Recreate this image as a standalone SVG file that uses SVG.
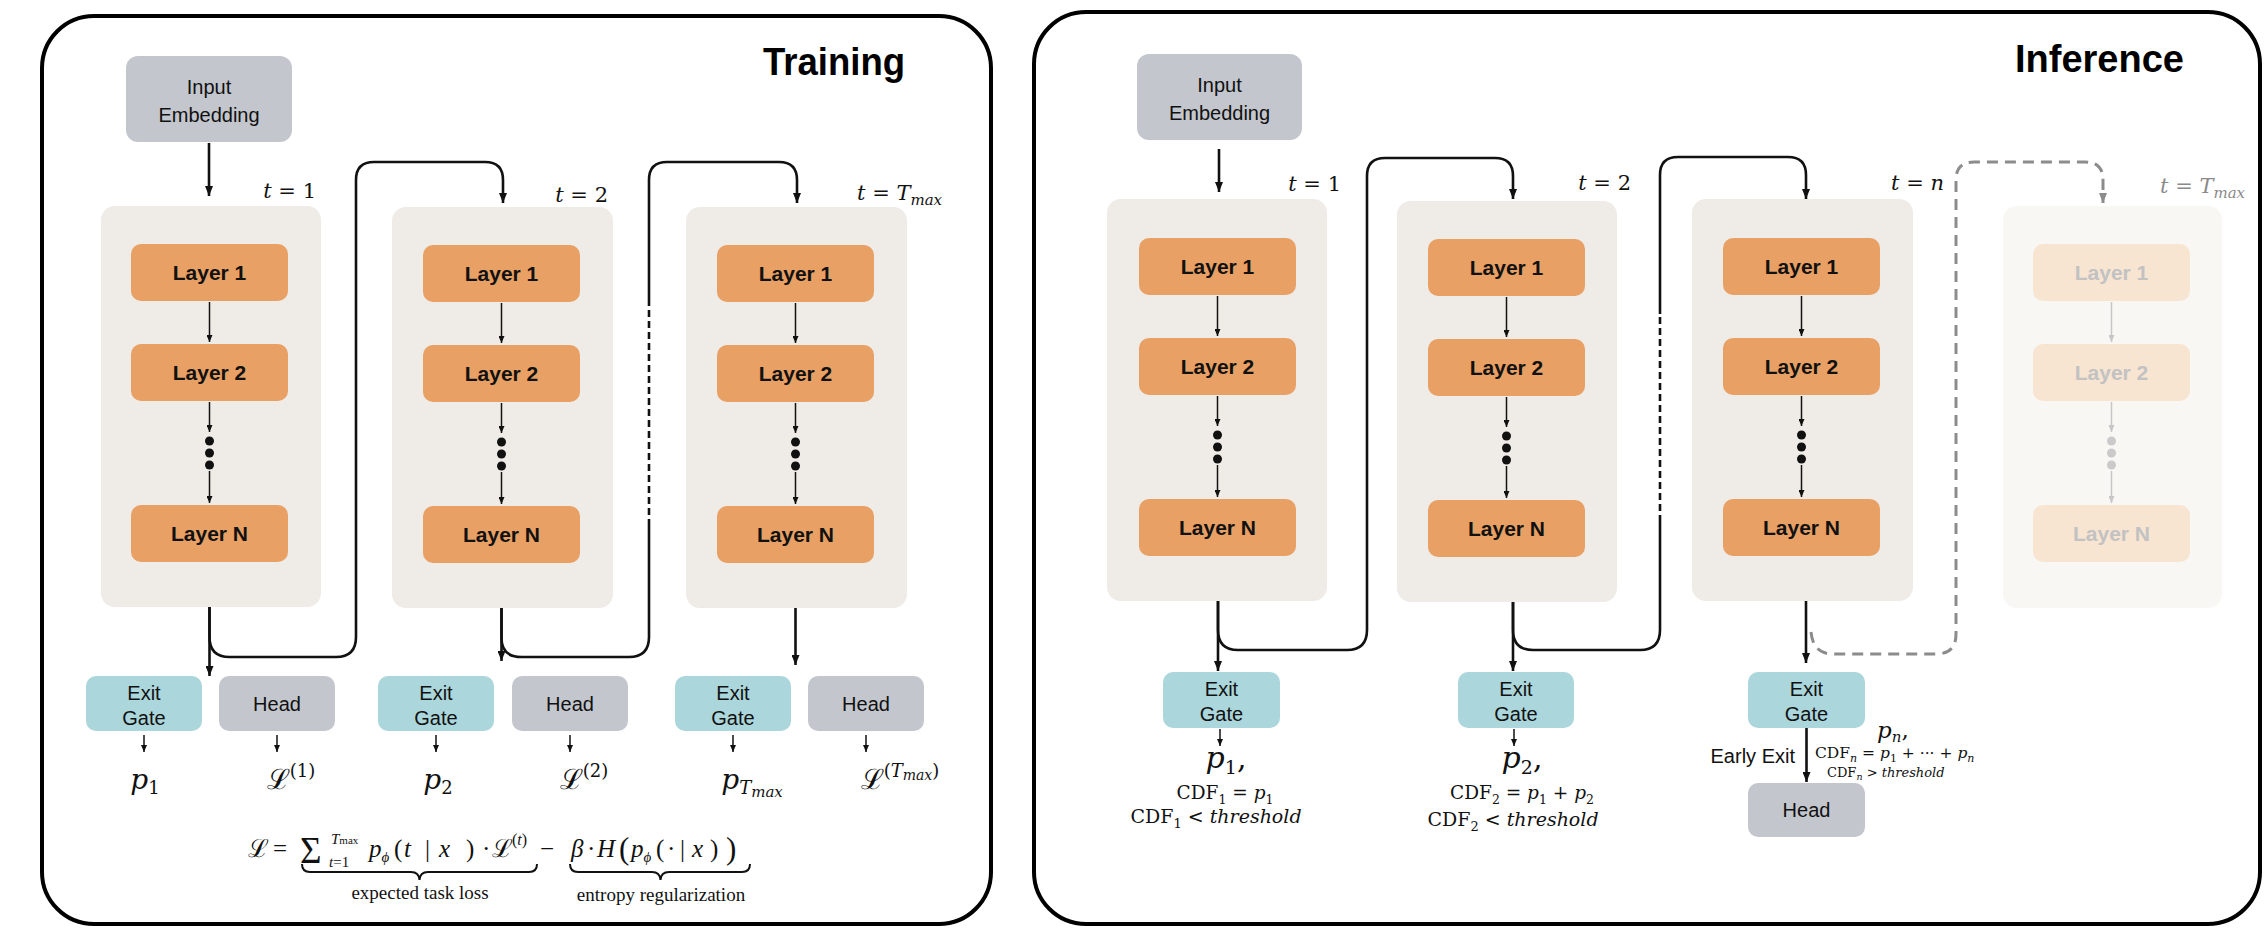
<svg xmlns="http://www.w3.org/2000/svg" width="2264" height="929" viewBox="0 0 2264 929">
<defs>
<style>
.panel{fill:#fff;stroke:#000;stroke-width:4}
.col{fill:#efebe6}
.colf{fill:#f8f7f3}
.layer{fill:#e8a064}
.layerf{fill:#f7e5d2}
.gate{fill:#abd6db}
.grey{fill:#c3c7cd}
.lbl{font-family:"Liberation Sans",Arial,sans-serif;font-size:21px;font-weight:bold;fill:#111;text-anchor:middle}
.lblf{font-family:"Liberation Sans",Arial,sans-serif;font-size:21px;font-weight:bold;fill:#c2c2c2;text-anchor:middle}
.box{font-family:"Liberation Sans",Arial,sans-serif;font-size:20px;fill:#111;text-anchor:middle}
.note{font-family:"Liberation Sans",Arial,sans-serif;font-size:20px;fill:#111;text-anchor:end}
.title{font-family:"Liberation Sans",Arial,sans-serif;font-size:39px;font-weight:bold;fill:#000}
.m{font-family:"DejaVu Serif",serif;fill:#111}
.mg{font-family:"DejaVu Serif",serif;fill:#8a8a8a}
.tex{font-family:"Liberation Serif","DejaVu Serif",serif;fill:#111;font-size:25px}
.i{font-style:italic}
.wire{fill:none;stroke:#111;stroke-width:2.6}
.dash{fill:none;stroke:#111;stroke-width:2.6;stroke-dasharray:7 4}
.thin{fill:none;stroke:#111;stroke-width:1.5}
.dashg{fill:none;stroke:#8c8c8c;stroke-width:3;stroke-dasharray:11 7}
.thinf{fill:none;stroke:#c6c6c6;stroke-width:1.5}
.dot{fill:#111}
.dotf{fill:#cacaca}
.brace{fill:none;stroke:#111;stroke-width:2}
</style>
<marker id="ah" viewBox="0 0 10 8" refX="10" refY="4" markerWidth="10" markerHeight="8" markerUnits="userSpaceOnUse" orient="auto"><path d="M0,0 L10,4 L0,8 z" fill="#111"/></marker>
<marker id="ahs" viewBox="0 0 7 6" refX="7" refY="3" markerWidth="7" markerHeight="6" markerUnits="userSpaceOnUse" orient="auto"><path d="M0,0 L7,3 L0,6 z" fill="#111"/></marker>
<marker id="ahg" viewBox="0 0 10 8" refX="10" refY="4" markerWidth="10" markerHeight="8" markerUnits="userSpaceOnUse" orient="auto"><path d="M0,0 L10,4 L0,8 z" fill="#8c8c8c"/></marker>
<marker id="ahf" viewBox="0 0 7 6" refX="7" refY="3" markerWidth="7" markerHeight="6" markerUnits="userSpaceOnUse" orient="auto"><path d="M0,0 L7,3 L0,6 z" fill="#c6c6c6"/></marker>
</defs>

<!-- ===================== TRAINING ===================== -->
<g id="training-panel">
  <rect class="panel" x="42" y="16" width="949" height="908" rx="52"/>
  <text class="title" x="763" y="75" textLength="142" lengthAdjust="spacingAndGlyphs">Training</text>
</g>

<g id="train-input">
  <rect class="grey" x="126" y="56" width="166" height="86" rx="12"/>
  <text class="box" font-size="22" x="209" y="94">Input</text>
  <text class="box" font-size="22" x="209" y="122">Embedding</text>
</g>

<!-- step t = 1 -->
<g id="train-step1">
  <rect class="col" x="101" y="206" width="220" height="401" rx="14"/>
  <rect class="layer" x="131" y="244" width="157" height="57" rx="10"/>
  <text class="lbl" x="209.5" y="280">Layer 1</text>
  <rect class="layer" x="131" y="344" width="157" height="57" rx="10"/>
  <text class="lbl" x="209.5" y="380">Layer 2</text>
  <rect class="layer" x="131" y="505" width="157" height="57" rx="10"/>
  <text class="lbl" x="209.5" y="541">Layer N</text>
  <path class="thin" d="M209.5 302 V342" marker-end="url(#ahs)"/>
  <path class="thin" d="M209.5 402 V432" marker-end="url(#ahs)"/>
  <circle class="dot" cx="209.5" cy="441" r="4.5"/>
  <circle class="dot" cx="209.5" cy="453" r="4.5"/>
  <circle class="dot" cx="209.5" cy="465" r="4.5"/>
  <path class="thin" d="M209.5 471 V503" marker-end="url(#ahs)"/>
  <text class="m" font-size="21" x="316" y="198" text-anchor="end"><tspan class="i">t</tspan> = 1</text>
</g>

<!-- step t = 2 -->
<g id="train-step2">
  <rect class="col" x="392" y="207" width="221" height="401" rx="14"/>
  <rect class="layer" x="423" y="245" width="157" height="57" rx="10"/>
  <text class="lbl" x="501.5" y="281">Layer 1</text>
  <rect class="layer" x="423" y="345" width="157" height="57" rx="10"/>
  <text class="lbl" x="501.5" y="381">Layer 2</text>
  <rect class="layer" x="423" y="506" width="157" height="57" rx="10"/>
  <text class="lbl" x="501.5" y="542">Layer N</text>
  <path class="thin" d="M501.5 303 V343" marker-end="url(#ahs)"/>
  <path class="thin" d="M501.5 403 V433" marker-end="url(#ahs)"/>
  <circle class="dot" cx="501.5" cy="442" r="4.5"/>
  <circle class="dot" cx="501.5" cy="454" r="4.5"/>
  <circle class="dot" cx="501.5" cy="466" r="4.5"/>
  <path class="thin" d="M501.5 472 V504" marker-end="url(#ahs)"/>
  <text class="m" font-size="21" x="608" y="202" text-anchor="end"><tspan class="i">t</tspan> = 2</text>
</g>

<!-- step t = T_max -->
<g id="train-stepmax">
  <rect class="col" x="686" y="207" width="221" height="401" rx="14"/>
  <rect class="layer" x="717" y="245" width="157" height="57" rx="10"/>
  <text class="lbl" x="795.5" y="281">Layer 1</text>
  <rect class="layer" x="717" y="345" width="157" height="57" rx="10"/>
  <text class="lbl" x="795.5" y="381">Layer 2</text>
  <rect class="layer" x="717" y="506" width="157" height="57" rx="10"/>
  <text class="lbl" x="795.5" y="542">Layer N</text>
  <path class="thin" d="M795.5 303 V343" marker-end="url(#ahs)"/>
  <path class="thin" d="M795.5 403 V433" marker-end="url(#ahs)"/>
  <circle class="dot" cx="795.5" cy="442" r="4.5"/>
  <circle class="dot" cx="795.5" cy="454" r="4.5"/>
  <circle class="dot" cx="795.5" cy="466" r="4.5"/>
  <path class="thin" d="M795.5 472 V504" marker-end="url(#ahs)"/>
  <text class="m" font-size="21" x="857" y="200"><tspan class="i">t</tspan> = <tspan class="i">T</tspan><tspan class="i" font-size="15" dy="5">max</tspan></text>
</g>

<!-- exit gates and heads -->
<g id="train-gate1"><rect class="gate" x="86" y="676" width="116" height="55" rx="10"/><text class="box" x="144" y="700">Exit</text><text class="box" x="144" y="725">Gate</text></g>
<g id="train-head1"><rect class="grey" x="219" y="676" width="116" height="55" rx="10"/><text class="box" x="277" y="711">Head</text></g>
<g id="train-gate2"><rect class="gate" x="378" y="676" width="116" height="55" rx="10"/><text class="box" x="436" y="700">Exit</text><text class="box" x="436" y="725">Gate</text></g>
<g id="train-head2"><rect class="grey" x="512" y="676" width="116" height="55" rx="10"/><text class="box" x="570" y="711">Head</text></g>
<g id="train-gate3"><rect class="gate" x="675" y="676" width="116" height="55" rx="10"/><text class="box" x="733" y="700">Exit</text><text class="box" x="733" y="725">Gate</text></g>
<g id="train-head3"><rect class="grey" x="808" y="676" width="116" height="55" rx="10"/><text class="box" x="866" y="711">Head</text></g>

<!-- outputs under the gates and heads -->
<g id="train-outputs">
  <text class="m" font-size="28" x="145" y="789" text-anchor="middle"><tspan class="i">p</tspan><tspan font-size="18" dy="5">1</tspan></text>
  <text class="m" font-size="28" x="291" y="789" text-anchor="middle">ℒ<tspan font-size="18" dy="-12">(1)</tspan></text>
  <text class="m" font-size="28" x="438" y="789" text-anchor="middle"><tspan class="i">p</tspan><tspan font-size="18" dy="5">2</tspan></text>
  <text class="m" font-size="28" x="584" y="789" text-anchor="middle">ℒ<tspan font-size="18" dy="-12">(2)</tspan></text>
  <text class="m" font-size="28" x="752" y="789" text-anchor="middle"><tspan class="i">p</tspan><tspan class="i" font-size="18" dy="5">T</tspan><tspan class="i" font-size="15" dy="3">max</tspan></text>
  <text class="m" font-size="28" x="900" y="789" text-anchor="middle">ℒ<tspan font-size="18" dy="-12">(</tspan><tspan class="i" font-size="18">T</tspan><tspan class="i" font-size="14" dy="3">max</tspan><tspan font-size="18" dy="-3">)</tspan></text>
</g>

<!-- objective -->
<g id="train-objective" class="tex">
  <text x="248" y="857">ℒ</text>
  <text x="273" y="857">=</text>
  <text x="300" y="863" font-size="37">Σ</text>
  <text x="331" y="844" font-size="15"><tspan class="i">T</tspan><tspan font-size="11">max</tspan></text>
  <text x="329" y="867" font-size="15"><tspan class="i">t</tspan>=1</text>
  <text x="369" y="857"><tspan class="i">p</tspan><tspan class="i" font-size="15" dy="5">ϕ</tspan></text>
  <text x="394" y="857">(</text>
  <text x="404" y="857" class="i">t</text>
  <text x="425" y="857">|</text>
  <text x="439" y="857" class="i">x</text>
  <text x="466" y="857">)</text>
  <text x="482" y="857">·</text>
  <text x="492" y="857">ℒ</text>
  <text x="512" y="845" font-size="16">(<tspan class="i">t</tspan>)</text>
  <text x="540" y="857">−</text>
  <text x="571" y="857" class="i">β</text>
  <text x="587" y="857">·</text>
  <text x="597" y="857" class="i">H</text>
  <text x="619" y="859" font-size="31">(</text>
  <text x="631" y="857"><tspan class="i">p</tspan><tspan class="i" font-size="15" dy="5">ϕ</tspan></text>
  <text x="656" y="857">(</text>
  <text x="667" y="857">·</text>
  <text x="680" y="857">|</text>
  <text x="692" y="857" class="i">x</text>
  <text x="710" y="857">)</text>
  <text x="726" y="859" font-size="31">)</text>
  <path class="brace" d="M302 864 Q302 872 310 872 L411 872 Q419 872 419.5 880 Q420 872 428 872 L529 872 Q537 872 537 864"/>
  <path class="brace" d="M570 864 Q570 872 578 872 L652 872 Q660 872 660.5 880 Q661 872 669 872 L742 872 Q750 872 750 864"/>
  <text x="420" y="899" font-size="19" text-anchor="middle">expected task loss</text>
  <text x="661" y="901" font-size="19" text-anchor="middle">entropy regularization</text>
</g>

<!-- training connectors -->
<g id="train-connectors">
  <path class="wire" d="M209 143 V196" marker-end="url(#ah)"/>
  <path class="wire" d="M209.5 607 V637 Q209.5 657 229.5 657 H336 Q356 657 356 637 V180 Q356 162 374 162 H485 Q503 162 503 180 V203" marker-end="url(#ah)"/>
  <path class="wire" d="M209.5 607 V676" marker-end="url(#ah)"/>
  <path class="wire" d="M501.5 608 V638 Q501.5 657 521.5 657 H629 Q649 657 649 637 V526"/>
  <path class="dash" d="M649 526 V302"/>
  <path class="wire" d="M649 302 V180 Q649 162 667 162 H779 Q797 162 797 180 V203" marker-end="url(#ah)"/>
  <path class="wire" d="M501.5 608 V661" marker-end="url(#ah)"/>
  <path class="wire" d="M795.5 608 V665" marker-end="url(#ah)"/>
  <path class="thin" d="M144 735 V752" marker-end="url(#ahs)"/>
  <path class="thin" d="M277 735 V752" marker-end="url(#ahs)"/>
  <path class="thin" d="M436 735 V752" marker-end="url(#ahs)"/>
  <path class="thin" d="M570 735 V752" marker-end="url(#ahs)"/>
  <path class="thin" d="M733 735 V752" marker-end="url(#ahs)"/>
  <path class="thin" d="M866 735 V752" marker-end="url(#ahs)"/>
</g>

<!-- ===================== INFERENCE ===================== -->
<g id="inference-panel">
  <rect class="panel" x="1034" y="12" width="1226" height="912" rx="52"/>
  <text class="title" x="2015" y="72" textLength="169" lengthAdjust="spacingAndGlyphs">Inference</text>
</g>

<g id="inf-input">
  <rect class="grey" x="1137" y="54" width="165" height="86" rx="12"/>
  <text class="box" font-size="22" x="1219.5" y="92">Input</text>
  <text class="box" font-size="22" x="1219.5" y="120">Embedding</text>
</g>

<g id="inf-step1">
  <rect class="col" x="1107" y="199" width="220" height="402" rx="14"/>
  <rect class="layer" x="1139" y="238" width="157" height="57" rx="10"/>
  <text class="lbl" x="1217.5" y="274">Layer 1</text>
  <rect class="layer" x="1139" y="338" width="157" height="57" rx="10"/>
  <text class="lbl" x="1217.5" y="374">Layer 2</text>
  <rect class="layer" x="1139" y="499" width="157" height="57" rx="10"/>
  <text class="lbl" x="1217.5" y="535">Layer N</text>
  <path class="thin" d="M1217.5 296 V336" marker-end="url(#ahs)"/>
  <path class="thin" d="M1217.5 396 V426" marker-end="url(#ahs)"/>
  <circle class="dot" cx="1217.5" cy="435" r="4.5"/>
  <circle class="dot" cx="1217.5" cy="447" r="4.5"/>
  <circle class="dot" cx="1217.5" cy="459" r="4.5"/>
  <path class="thin" d="M1217.5 465 V497" marker-end="url(#ahs)"/>
  <text class="m" font-size="21" x="1341" y="191" text-anchor="end"><tspan class="i">t</tspan> = 1</text>
</g>

<g id="inf-step2">
  <rect class="col" x="1397" y="201" width="220" height="401" rx="14"/>
  <rect class="layer" x="1428" y="239" width="157" height="57" rx="10"/>
  <text class="lbl" x="1506.5" y="275">Layer 1</text>
  <rect class="layer" x="1428" y="339" width="157" height="57" rx="10"/>
  <text class="lbl" x="1506.5" y="375">Layer 2</text>
  <rect class="layer" x="1428" y="500" width="157" height="57" rx="10"/>
  <text class="lbl" x="1506.5" y="536">Layer N</text>
  <path class="thin" d="M1506.5 297 V337" marker-end="url(#ahs)"/>
  <path class="thin" d="M1506.5 397 V427" marker-end="url(#ahs)"/>
  <circle class="dot" cx="1506.5" cy="436" r="4.5"/>
  <circle class="dot" cx="1506.5" cy="448" r="4.5"/>
  <circle class="dot" cx="1506.5" cy="460" r="4.5"/>
  <path class="thin" d="M1506.5 466 V498" marker-end="url(#ahs)"/>
  <text class="m" font-size="21" x="1631" y="190" text-anchor="end"><tspan class="i">t</tspan> = 2</text>
</g>

<g id="inf-stepn">
  <rect class="col" x="1692" y="199" width="221" height="402" rx="14"/>
  <rect class="layer" x="1723" y="238" width="157" height="57" rx="10"/>
  <text class="lbl" x="1801.5" y="274">Layer 1</text>
  <rect class="layer" x="1723" y="338" width="157" height="57" rx="10"/>
  <text class="lbl" x="1801.5" y="374">Layer 2</text>
  <rect class="layer" x="1723" y="499" width="157" height="57" rx="10"/>
  <text class="lbl" x="1801.5" y="535">Layer N</text>
  <path class="thin" d="M1801.5 296 V336" marker-end="url(#ahs)"/>
  <path class="thin" d="M1801.5 396 V426" marker-end="url(#ahs)"/>
  <circle class="dot" cx="1801.5" cy="435" r="4.5"/>
  <circle class="dot" cx="1801.5" cy="447" r="4.5"/>
  <circle class="dot" cx="1801.5" cy="459" r="4.5"/>
  <path class="thin" d="M1801.5 465 V497" marker-end="url(#ahs)"/>
  <text class="m" font-size="21" x="1944" y="190" text-anchor="end"><tspan class="i">t</tspan> = <tspan class="i">n</tspan></text>
</g>

<!-- step that is skipped at inference (drawn faded) -->
<g id="inf-stepmax">
  <rect class="colf" x="2003" y="206" width="219" height="402" rx="14"/>
  <rect class="layerf" x="2033" y="244" width="157" height="57" rx="10"/>
  <text class="lblf" x="2111.5" y="280">Layer 1</text>
  <rect class="layerf" x="2033" y="344" width="157" height="57" rx="10"/>
  <text class="lblf" x="2111.5" y="380">Layer 2</text>
  <rect class="layerf" x="2033" y="505" width="157" height="57" rx="10"/>
  <text class="lblf" x="2111.5" y="541">Layer N</text>
  <path class="thinf" d="M2111.5 302 V342" marker-end="url(#ahf)"/>
  <path class="thinf" d="M2111.5 402 V432" marker-end="url(#ahf)"/>
  <circle class="dotf" cx="2111.5" cy="441" r="4.5"/>
  <circle class="dotf" cx="2111.5" cy="453" r="4.5"/>
  <circle class="dotf" cx="2111.5" cy="465" r="4.5"/>
  <path class="thinf" d="M2111.5 471 V503" marker-end="url(#ahf)"/>
  <text class="mg" font-size="21" x="2160" y="193"><tspan class="i">t</tspan> = <tspan class="i">T</tspan><tspan class="i" font-size="15" dy="5">max</tspan></text>
</g>

<g id="inf-gate1"><rect class="gate" x="1163" y="672" width="117" height="56" rx="10"/><text class="box" x="1221.5" y="696">Exit</text><text class="box" x="1221.5" y="721">Gate</text></g>
<g id="inf-gate2"><rect class="gate" x="1458" y="672" width="116" height="56" rx="10"/><text class="box" x="1516" y="696">Exit</text><text class="box" x="1516" y="721">Gate</text></g>
<g id="inf-gate3"><rect class="gate" x="1748" y="672" width="117" height="56" rx="10"/><text class="box" x="1806.5" y="696">Exit</text><text class="box" x="1806.5" y="721">Gate</text></g>
<g id="inf-head"><rect class="grey" x="1748" y="783" width="117" height="54" rx="10"/><text class="box" x="1806.5" y="817">Head</text></g>

<g id="inf-outputs">
  <text class="m" font-size="30" x="1226" y="768" text-anchor="middle"><tspan class="i">p</tspan><tspan font-size="19" dy="6">1</tspan><tspan dy="-6">,</tspan></text>
  <text class="m" font-size="18.5" x="1225" y="799" text-anchor="middle">CDF<tspan font-size="12.5" dy="5">1</tspan><tspan dy="-5"> = </tspan><tspan class="i">p</tspan><tspan font-size="12.5" dy="5">1</tspan></text>
  <text class="m" font-size="19" x="1216" y="823" text-anchor="middle">CDF<tspan font-size="13" dy="5">1</tspan><tspan dy="-5"> &lt; </tspan><tspan class="i">threshold</tspan></text>
  <text class="m" font-size="30" x="1522" y="768" text-anchor="middle"><tspan class="i">p</tspan><tspan font-size="19" dy="6">2</tspan><tspan dy="-6">,</tspan></text>
  <text class="m" font-size="18.5" x="1522" y="799" text-anchor="middle">CDF<tspan font-size="12.5" dy="5">2</tspan><tspan dy="-5"> = </tspan><tspan class="i">p</tspan><tspan font-size="12.5" dy="5">1</tspan><tspan dy="-5"> + </tspan><tspan class="i">p</tspan><tspan font-size="12.5" dy="5">2</tspan></text>
  <text class="m" font-size="19" x="1513" y="826" text-anchor="middle">CDF<tspan font-size="13" dy="5">2</tspan><tspan dy="-5"> &lt; </tspan><tspan class="i">threshold</tspan></text>
  <text class="note" x="1795" y="763">Early Exit</text>
  <text class="m" font-size="23" x="1877" y="738"><tspan class="i">p</tspan><tspan class="i" font-size="15" dy="4">n</tspan><tspan dy="-4">,</tspan></text>
  <text class="m" font-size="15.5" x="1815" y="758">CDF<tspan class="i" font-size="11" dy="4">n</tspan><tspan dy="-4"> = </tspan><tspan class="i">p</tspan><tspan font-size="11" dy="4">1</tspan><tspan dy="-4"> + ··· + </tspan><tspan class="i">p</tspan><tspan class="i" font-size="11" dy="4">n</tspan></text>
  <text class="m" font-size="13" x="1827" y="777">CDF<tspan class="i" font-size="9.5" dy="3">n</tspan><tspan dy="-3"> &gt; </tspan><tspan class="i">threshold</tspan></text>
</g>

<!-- inference connectors -->
<g id="inf-connectors">
  <path class="wire" d="M1219 149 V192" marker-end="url(#ah)"/>
  <path class="wire" d="M1218 601 V630 Q1218 650 1238 650 H1347 Q1367 650 1367 630 V176 Q1367 158 1385 158 H1495 Q1513 158 1513 176 V199" marker-end="url(#ah)"/>
  <path class="wire" d="M1218 601 V671" marker-end="url(#ah)"/>
  <path class="wire" d="M1513 602 V630 Q1513 650 1533 650 H1640 Q1660 650 1660 630 V522"/>
  <path class="dash" d="M1660 522 V314"/>
  <path class="wire" d="M1660 314 V175 Q1660 157 1678 157 H1788 Q1806 157 1806 175 V199" marker-end="url(#ah)"/>
  <path class="wire" d="M1513 602 V671" marker-end="url(#ah)"/>
  <path class="wire" d="M1806 601 V663" marker-end="url(#ah)"/>
  <path class="dashg" d="M1811 632 Q1813 654 1833 654 H1936 Q1956 654 1956 634 V180 Q1956 162 1974 162 H2085 Q2103 162 2103 180 V203" marker-end="url(#ahg)"/>
  <path class="thin" d="M1220 729 V746" marker-end="url(#ahs)"/>
  <path class="thin" d="M1514 729 V746" marker-end="url(#ahs)"/>
  <path class="wire" d="M1806.5 728 V782" marker-end="url(#ah)"/>
</g>
</svg>
